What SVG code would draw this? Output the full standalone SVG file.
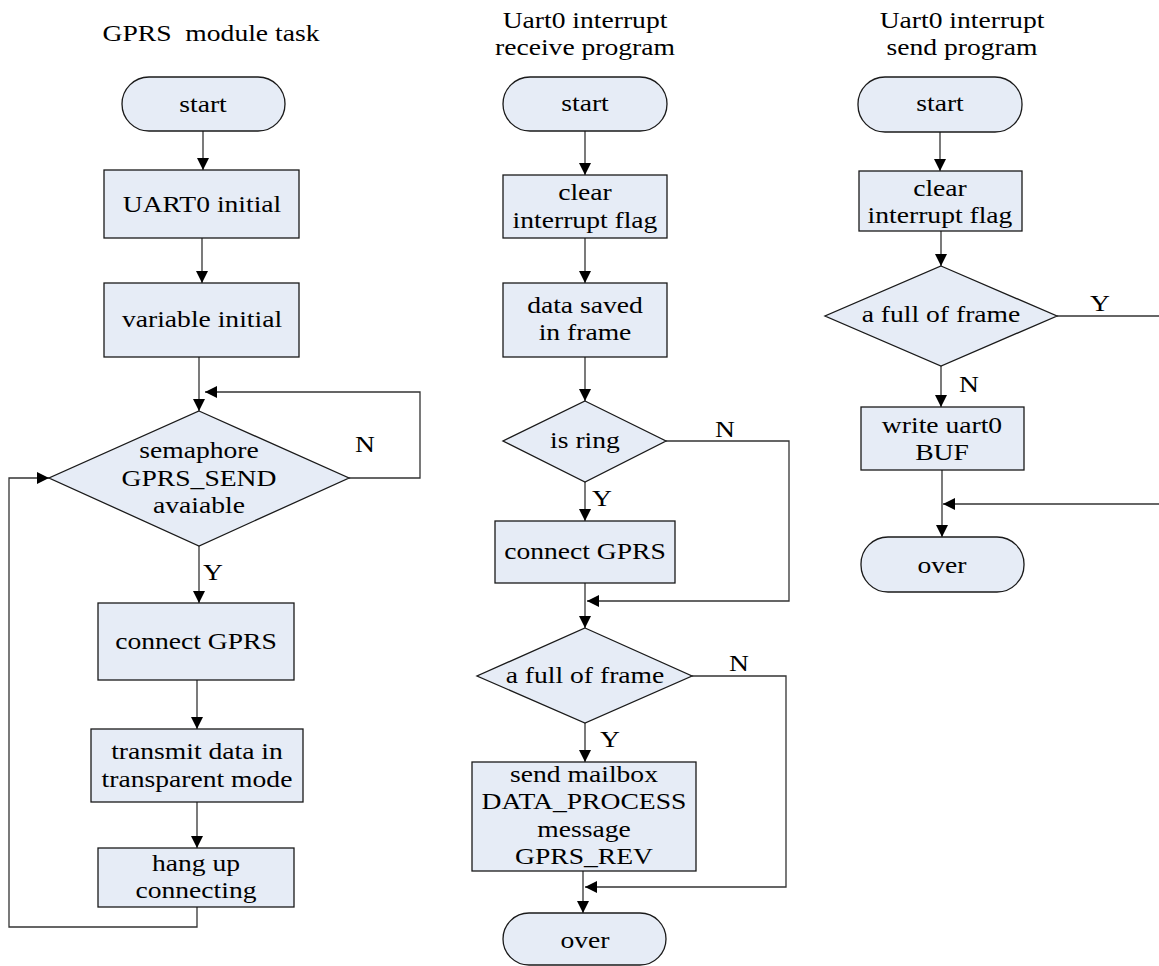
<svg xmlns="http://www.w3.org/2000/svg" width="1159" height="966" viewBox="0 0 1159 966">
<style>
.n{fill:#e6ecf6;stroke:#1a1a1a;stroke-width:1.3}
.t{font-family:"Liberation Serif","Times New Roman",serif;font-size:24px;fill:#000;text-anchor:middle;white-space:pre}
.c{fill:none;stroke:#333;stroke-width:1.3}
</style>
<defs>
<marker id="a" viewBox="0 0 12 12" markerWidth="12" markerHeight="12" refX="12" refY="6" orient="auto" markerUnits="userSpaceOnUse">
<path d="M0,0 L12,6 L0,12 z" fill="#000"/>
</marker>
</defs>
<rect width="1159" height="966" fill="#fff"/>

<g id="titles">
<text class="t" transform="matrix(1.15 0 0 1 211 0)" x="0" y="41">GPRS  module task</text>
<text class="t" transform="matrix(1.15 0 0 1 585 0)" x="0" y="28">Uart0 interrupt</text>
<text class="t" transform="matrix(1.15 0 0 1 585 0)" x="0" y="55">receive program</text>
<text class="t" transform="matrix(1.15 0 0 1 962 0)" x="0" y="28">Uart0 interrupt</text>
<text class="t" transform="matrix(1.15 0 0 1 962 0)" x="0" y="55">send program</text>
</g>

<g id="connectors">
<path class="c" d="M203,131 V170" marker-end="url(#a)"/>
<path class="c" d="M202,238 V283" marker-end="url(#a)"/>
<path class="c" d="M199,357 V411" marker-end="url(#a)"/>
<path class="c" d="M349,478 H420 V392 H205" marker-end="url(#a)"/>
<path class="c" d="M199,546 V603" marker-end="url(#a)"/>
<path class="c" d="M197,680 V729" marker-end="url(#a)"/>
<path class="c" d="M197,802 V848" marker-end="url(#a)"/>
<path class="c" d="M197,907 V927 H9 V478 H49" marker-end="url(#a)"/>

<path class="c" d="M585,131 V175" marker-end="url(#a)"/>
<path class="c" d="M585,238 V283" marker-end="url(#a)"/>
<path class="c" d="M585,357 V401" marker-end="url(#a)"/>
<path class="c" d="M666,441 H789 V601 H587" marker-end="url(#a)"/>
<path class="c" d="M585,482 V521" marker-end="url(#a)"/>
<path class="c" d="M585,583 V628" marker-end="url(#a)"/>
<path class="c" d="M692,676 H786 V887 H585" marker-end="url(#a)"/>
<path class="c" d="M585,723 V762" marker-end="url(#a)"/>
<path class="c" d="M583,871 V913" marker-end="url(#a)"/>

<path class="c" d="M940,132 V171" marker-end="url(#a)"/>
<path class="c" d="M941,231 V266" marker-end="url(#a)"/>
<path class="c" d="M1057,316 H1159"/>
<path class="c" d="M941,366 V407" marker-end="url(#a)"/>
<path class="c" d="M942,470 V537" marker-end="url(#a)"/>
<path class="c" d="M1159,504 H943" marker-end="url(#a)"/>

<text class="t" transform="matrix(1.15 0 0 1 365 0)" x="0" y="452">N</text>
<text class="t" transform="matrix(1.15 0 0 1 213 0)" x="0" y="580">Y</text>
<text class="t" transform="matrix(1.15 0 0 1 725 0)" x="0" y="437">N</text>
<text class="t" transform="matrix(1.15 0 0 1 602 0)" x="0" y="506">Y</text>
<text class="t" transform="matrix(1.15 0 0 1 739 0)" x="0" y="671">N</text>
<text class="t" transform="matrix(1.15 0 0 1 610 0)" x="0" y="747">Y</text>
<text class="t" transform="matrix(1.15 0 0 1 1100 0)" x="0" y="311">Y</text>
<text class="t" transform="matrix(1.15 0 0 1 969 0)" x="0" y="392">N</text>
</g>

<g id="l-start"><rect class="n" x="122" y="77" width="163" height="54" rx="27"/><text class="t" transform="matrix(1.15 0 0 1 203 0)" x="0" y="112">start</text></g>
<g id="l-uart"><rect class="n" x="104" y="170" width="195" height="68"/><text class="t" transform="matrix(1.15 0 0 1 202 0)" x="0" y="212">UART0 initial</text></g>
<g id="l-var"><rect class="n" x="104" y="283" width="195" height="74"/><text class="t" transform="matrix(1.15 0 0 1 202 0)" x="0" y="327">variable initial</text></g>
<g id="l-sem"><polygon class="n" points="199,411 349,478 199,546 49,478"/>
<text class="t" transform="matrix(1.15 0 0 1 199 0)" x="0" y="458">semaphore</text>
<text class="t" transform="matrix(1.15 0 0 1 199 0)" x="0" y="486">GPRS_SEND</text>
<text class="t" transform="matrix(1.15 0 0 1 199 0)" x="0" y="513">avaiable</text></g>
<g id="l-conn"><rect class="n" x="98" y="603" width="196" height="77"/><text class="t" transform="matrix(1.15 0 0 1 196 0)" x="0" y="649">connect GPRS</text></g>
<g id="l-trans"><rect class="n" x="91" y="729" width="212" height="73"/>
<text class="t" transform="matrix(1.15 0 0 1 197 0)" x="0" y="759">transmit data in</text>
<text class="t" transform="matrix(1.15 0 0 1 197 0)" x="0" y="787">transparent mode</text></g>
<g id="l-hang"><rect class="n" x="98" y="848" width="196" height="59"/>
<text class="t" transform="matrix(1.15 0 0 1 196 0)" x="0" y="871">hang up</text>
<text class="t" transform="matrix(1.15 0 0 1 196 0)" x="0" y="898">connecting</text></g>

<g id="m-start"><rect class="n" x="503" y="77" width="164" height="54" rx="27"/><text class="t" transform="matrix(1.15 0 0 1 585 0)" x="0" y="111">start</text></g>
<g id="m-clear"><rect class="n" x="503" y="175" width="164" height="63"/>
<text class="t" transform="matrix(1.15 0 0 1 585 0)" x="0" y="200">clear</text>
<text class="t" transform="matrix(1.15 0 0 1 585 0)" x="0" y="228">interrupt flag</text></g>
<g id="m-data"><rect class="n" x="503" y="283" width="164" height="74"/>
<text class="t" transform="matrix(1.15 0 0 1 585 0)" x="0" y="313">data saved</text>
<text class="t" transform="matrix(1.15 0 0 1 585 0)" x="0" y="340">in frame</text></g>
<g id="m-ring"><polygon class="n" points="585,401 666,441 585,482 503,441"/><text class="t" transform="matrix(1.15 0 0 1 585 0)" x="0" y="448">is ring</text></g>
<g id="m-conn"><rect class="n" x="495" y="521" width="180" height="62"/><text class="t" transform="matrix(1.15 0 0 1 585 0)" x="0" y="559">connect GPRS</text></g>
<g id="m-full"><polygon class="n" points="585,628 692,676 585,723 477,676"/><text class="t" transform="matrix(1.15 0 0 1 585 0)" x="0" y="683">a full of frame</text></g>
<g id="m-send"><rect class="n" x="472" y="762" width="224" height="109"/>
<text class="t" transform="matrix(1.15 0 0 1 584 0)" x="0" y="782">send mailbox</text>
<text class="t" transform="matrix(1.15 0 0 1 584 0)" x="0" y="809">DATA_PROCESS</text>
<text class="t" transform="matrix(1.15 0 0 1 584 0)" x="0" y="837">message</text>
<text class="t" transform="matrix(1.15 0 0 1 584 0)" x="0" y="864">GPRS_REV</text></g>
<g id="m-over"><rect class="n" x="503" y="913" width="163" height="52" rx="26"/><text class="t" transform="matrix(1.15 0 0 1 585 0)" x="0" y="948">over</text></g>

<g id="r-start"><rect class="n" x="858" y="77" width="164" height="55" rx="27"/><text class="t" transform="matrix(1.15 0 0 1 940 0)" x="0" y="111">start</text></g>
<g id="r-clear"><rect class="n" x="859" y="171" width="163" height="60"/>
<text class="t" transform="matrix(1.15 0 0 1 940 0)" x="0" y="196">clear</text>
<text class="t" transform="matrix(1.15 0 0 1 940 0)" x="0" y="223">interrupt flag</text></g>
<g id="r-full"><polygon class="n" points="941,266 1057,316 941,366 825,316"/><text class="t" transform="matrix(1.15 0 0 1 941 0)" x="0" y="322">a full of frame</text></g>
<g id="r-write"><rect class="n" x="861" y="407" width="163" height="63"/>
<text class="t" transform="matrix(1.15 0 0 1 942 0)" x="0" y="433">write uart0</text>
<text class="t" transform="matrix(1.15 0 0 1 942 0)" x="0" y="460">BUF</text></g>
<g id="r-over"><rect class="n" x="861" y="537" width="163" height="55" rx="27"/><text class="t" transform="matrix(1.15 0 0 1 942 0)" x="0" y="573">over</text></g>
</svg>
